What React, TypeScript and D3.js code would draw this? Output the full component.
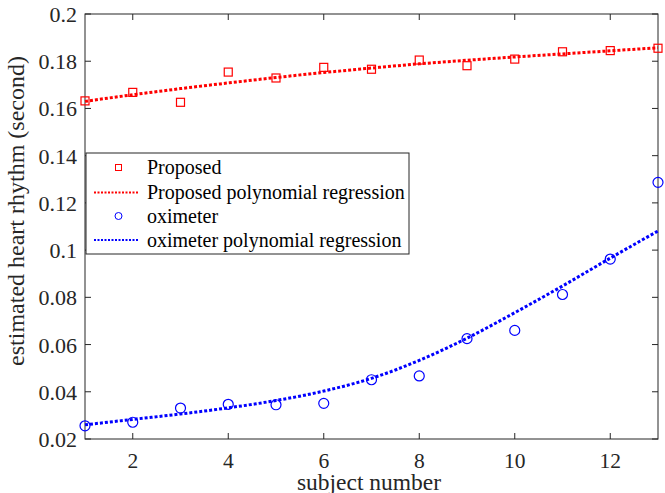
import { useEffect, useRef } from 'react'
import * as d3 from 'd3'

const subjects = [1, 2, 3, 4, 5, 6, 7, 8, 9, 10, 11, 12, 13]
const proposed = [0.1632, 0.1668, 0.1626, 0.1754, 0.1729, 0.1774, 0.1766, 0.1805, 0.1781, 0.1809, 0.1840, 0.1845, 0.1855]
const proposedFit = [0.1630, 0.1658, 0.1684, 0.1708, 0.1731, 0.1752, 0.1771, 0.1789, 0.1804, 0.1818, 0.1831, 0.1844, 0.1857]
const oximeter = [0.0256, 0.0271, 0.0331, 0.0347, 0.0345, 0.0351, 0.0451, 0.0467, 0.0625, 0.0660, 0.0812, 0.0962, 0.1287]
const oximeterFit = [0.0260, 0.0283, 0.0306, 0.0332, 0.0363, 0.0403, 0.0457, 0.0533, 0.0627, 0.0735, 0.0848, 0.0966, 0.1081]
const xTicks = [2, 4, 6, 8, 10, 12]
const yTicks = [0.02, 0.04, 0.06, 0.08, 0.1, 0.12, 0.14, 0.16, 0.18, 0.2]
const legendLabels = ['Proposed', 'Proposed polynomial regression', 'oximeter', 'oximeter polynomial regression']

const W = 665
const H = 493
const FONT = '"Liberation Serif", "Times New Roman", serif'

export default function App() {
  const svgRef = useRef<SVGSVGElement>(null)

  useEffect(() => {
    if (!svgRef.current) return
    const svg = d3.select(svgRef.current)
    svg.selectAll('*').remove()

    const left = 85, right = 658, top = 14, bottom = 439
    const x = d3.scaleLinear().domain([1, 13]).range([left, right])
    const y = d3.scaleLinear().domain([0.02, 0.2]).range([bottom, top])
    const axisColor = '#262626'
    const tickLen = 6

    const g = svg.append('g')

    // box
    g.append('rect')
      .attr('x', left).attr('y', top)
      .attr('width', right - left).attr('height', bottom - top)
      .attr('fill', 'none').attr('stroke', axisColor).attr('stroke-width', 1)

    // x ticks (bottom + top, inward)
    xTicks.forEach(t => {
      g.append('line').attr('x1', x(t)).attr('x2', x(t)).attr('y1', bottom).attr('y2', bottom - tickLen)
        .attr('stroke', axisColor)
      g.append('line').attr('x1', x(t)).attr('x2', x(t)).attr('y1', top).attr('y2', top + tickLen)
        .attr('stroke', axisColor)
      g.append('text').attr('x', x(t)).attr('y', 468)
        .attr('text-anchor', 'middle').attr('font-family', FONT).attr('font-size', 21.5)
        .attr('fill', axisColor).text(t)
    })

    // y ticks
    yTicks.forEach(t => {
      g.append('line').attr('x1', left).attr('x2', left + tickLen).attr('y1', y(t)).attr('y2', y(t))
        .attr('stroke', axisColor)
      g.append('line').attr('x1', right).attr('x2', right - tickLen).attr('y1', y(t)).attr('y2', y(t))
        .attr('stroke', axisColor)
      g.append('text').attr('x', 77).attr('y', y(t) + 8)
        .attr('text-anchor', 'end').attr('font-family', FONT).attr('font-size', 22)
        .attr('fill', axisColor).text(String(+t.toFixed(2)))
    })

    // axis labels
    g.append('text').attr('x', 369).attr('y', 490)
      .attr('text-anchor', 'middle').attr('font-family', FONT).attr('font-size', 23.5)
      .attr('fill', axisColor).text('subject number')
    g.append('text')
      .attr('transform', `translate(24,211) rotate(-90)`)
      .attr('text-anchor', 'middle').attr('font-family', FONT).attr('font-size', 24)
      .attr('fill', axisColor).text('estimated heart rhythm (second)')

    const line = d3.line<number>()
      .x((_, i) => x(subjects[i]))
      .y(d => y(d))
      .curve(d3.curveMonotoneX)

    const dotted = (sel: d3.Selection<SVGPathElement, unknown, null, undefined>, color: string) =>
      sel.attr('fill', 'none').attr('stroke', color).attr('stroke-width', 3).attr('stroke-dasharray', '3,2')

    dotted(g.append('path').attr('d', line(proposedFit)), '#ff0000')
    dotted(g.append('path').attr('d', line(oximeterFit)), '#0000ff')

    const sq = 8
    g.selectAll('rect.prop').data(proposed).join('rect')
      .attr('class', 'prop')
      .attr('x', (_, i) => x(subjects[i]) - sq / 2)
      .attr('y', d => y(d) - sq / 2)
      .attr('width', sq).attr('height', sq)
      .attr('fill', 'none').attr('stroke', '#ff0000').attr('stroke-width', 1.2)

    g.selectAll('circle.oxi').data(oximeter).join('circle')
      .attr('class', 'oxi')
      .attr('cx', (_, i) => x(subjects[i]))
      .attr('cy', d => y(d))
      .attr('r', 5)
      .attr('fill', 'none').attr('stroke', '#0000ff').attr('stroke-width', 1.2)

    // legend
    const lg = g.append('g')
    lg.append('rect').attr('x', 86).attr('y', 153).attr('width', 323).attr('height', 101)
      .attr('fill', '#fff').attr('stroke', axisColor).attr('stroke-width', 1)
    const rowY = [167.5, 192.5, 216, 240]
    legendLabels.forEach((lab, i) => {
      const cy = rowY[i]
      if (i === 0) {
        lg.append('rect').attr('x', 118.5 - 3).attr('y', cy - 3).attr('width', 6).attr('height', 6)
          .attr('fill', 'none').attr('stroke', '#ff0000').attr('stroke-width', 1)
      } else if (i === 2) {
        lg.append('circle').attr('cx', 118.5).attr('cy', cy).attr('r', 3.5)
          .attr('fill', 'none').attr('stroke', '#0000ff').attr('stroke-width', 1)
      } else {
        lg.append('line').attr('x1', 94).attr('x2', 139).attr('y1', cy).attr('y2', cy)
          .attr('stroke', i === 1 ? '#ff0000' : '#0000ff').attr('stroke-width', 2)
          .attr('stroke-dasharray', '2,1.5')
      }
      lg.append('text').attr('x', 147).attr('y', cy + 6.5)
        .attr('font-family', FONT).attr('font-size', 20).attr('fill', '#000').text(lab)
    })
  }, [])

  return (
    <div style={{ position: 'absolute', left: 0, top: 0 }}>
      <svg ref={svgRef} width={W} height={H} style={{ display: 'block', background: '#fff' }} />
    </div>
  )
}
